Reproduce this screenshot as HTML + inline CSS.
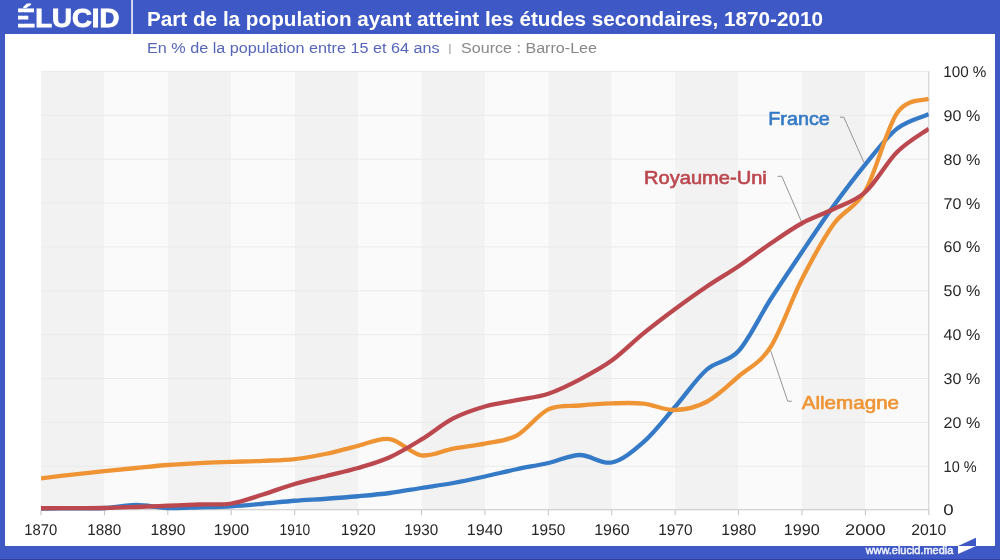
<!DOCTYPE html>
<html lang="fr"><head><meta charset="utf-8">
<title>Part de la population ayant atteint les études secondaires, 1870-2010</title>
<style>
html,body{margin:0;padding:0;background:#3e58c5;}
body{width:1000px;height:560px;overflow:hidden;}
svg{display:block;}
text{font-family:"Liberation Sans",sans-serif;}
.ax{font-size:15.5px;fill:#262626;text-rendering:geometricPrecision;}
.lab{font-size:19px;font-weight:normal;stroke-width:0.65px;stroke-linejoin:round;}
</style></head><body>
<svg width="1000" height="560" viewBox="0 0 1000 560">
<rect x="0" y="0" width="1000" height="560" fill="#3e58c5"/>
<rect x="0" y="559" width="1000" height="1" fill="#2f3fa3"/>
<rect x="5" y="34" width="990" height="512" fill="#fff"/>
<rect x="131.3" y="0" width="1.5" height="34" fill="#fff"/>
<text x="16.8" y="26.6" font-size="26" font-weight="bold" fill="#fff" stroke="#fff" stroke-width="0.9" stroke-linejoin="miter" textLength="102.6" lengthAdjust="spacingAndGlyphs">ÉLUCID</text>
<rect x="15" y="12.31" width="8.9" height="3.38" fill="#3e58c5"/>
<rect x="15" y="19.56" width="8.9" height="4.13" fill="#3e58c5"/>
<rect x="28.3" y="14.9" width="7" height="5.6" fill="#3e58c5"/>
<text x="147" y="25.8" font-size="19.4" font-weight="bold" fill="#fff" textLength="676" lengthAdjust="spacingAndGlyphs">Part de la population ayant atteint les études secondaires, 1870-2010</text>
<text x="147" y="53" font-size="15.5" fill="#5566b8" textLength="292.5" lengthAdjust="spacingAndGlyphs">En % de la population entre 15 et 64 ans</text>
<text x="448.6" y="52.3" font-size="11" fill="#888">|</text>
<text x="461" y="53" font-size="15.5" fill="#888" textLength="136" lengthAdjust="spacingAndGlyphs">Source : Barro-Lee</text>
<rect x="41.00" y="71.40" width="63.41" height="438.75" fill="#f2f2f2"/>
<rect x="104.41" y="71.40" width="63.41" height="438.75" fill="#fafafa"/>
<rect x="167.83" y="71.40" width="63.41" height="438.75" fill="#f2f2f2"/>
<rect x="231.24" y="71.40" width="63.41" height="438.75" fill="#fafafa"/>
<rect x="294.66" y="71.40" width="63.41" height="438.75" fill="#f2f2f2"/>
<rect x="358.07" y="71.40" width="63.41" height="438.75" fill="#fafafa"/>
<rect x="421.49" y="71.40" width="63.41" height="438.75" fill="#f2f2f2"/>
<rect x="484.90" y="71.40" width="63.41" height="438.75" fill="#fafafa"/>
<rect x="548.31" y="71.40" width="63.41" height="438.75" fill="#f2f2f2"/>
<rect x="611.73" y="71.40" width="63.41" height="438.75" fill="#fafafa"/>
<rect x="675.14" y="71.40" width="63.41" height="438.75" fill="#f2f2f2"/>
<rect x="738.56" y="71.40" width="63.41" height="438.75" fill="#fafafa"/>
<rect x="801.97" y="71.40" width="63.41" height="438.75" fill="#f2f2f2"/>
<rect x="865.39" y="71.40" width="63.41" height="438.75" fill="#fafafa"/>
<rect x="41.00" y="465.77" width="887.80" height="1" fill="#eaeaea"/>
<rect x="41.00" y="421.90" width="887.80" height="1" fill="#eaeaea"/>
<rect x="41.00" y="378.02" width="887.80" height="1" fill="#eaeaea"/>
<rect x="41.00" y="334.15" width="887.80" height="1" fill="#eaeaea"/>
<rect x="41.00" y="290.27" width="887.80" height="1" fill="#eaeaea"/>
<rect x="41.00" y="246.40" width="887.80" height="1" fill="#eaeaea"/>
<rect x="41.00" y="202.52" width="887.80" height="1" fill="#eaeaea"/>
<rect x="41.00" y="158.65" width="887.80" height="1" fill="#eaeaea"/>
<rect x="41.00" y="114.77" width="887.80" height="1" fill="#eaeaea"/>
<rect x="41.00" y="70.90" width="887.80" height="1" fill="#eaeaea"/>
<rect x="41.00" y="509.25" width="887.80" height="1" fill="#c8c8c8"/>
<rect x="928.30" y="71.40" width="1" height="438.75" fill="#cacaca"/>
<rect x="40.50" y="510.15" width="1" height="5" fill="#c0c0c0"/>
<text class="ax" x="24.37" y="535.35" textLength="32.95" lengthAdjust="spacingAndGlyphs">1870</text>
<rect x="103.91" y="510.15" width="1" height="5" fill="#c0c0c0"/>
<text class="ax" x="87.29" y="535.35" textLength="33.95" lengthAdjust="spacingAndGlyphs">1880</text>
<rect x="167.33" y="510.15" width="1" height="5" fill="#c0c0c0"/>
<text class="ax" x="150.58" y="535.35" textLength="35.00" lengthAdjust="spacingAndGlyphs">1890</text>
<rect x="230.74" y="510.15" width="1" height="5" fill="#c0c0c0"/>
<text class="ax" x="213.74" y="535.35" textLength="35.50" lengthAdjust="spacingAndGlyphs">1900</text>
<rect x="294.16" y="510.15" width="1" height="5" fill="#c0c0c0"/>
<text class="ax" x="279.53" y="535.35" textLength="30.75" lengthAdjust="spacingAndGlyphs">1910</text>
<rect x="357.57" y="510.15" width="1" height="5" fill="#c0c0c0"/>
<text class="ax" x="340.82" y="535.35" textLength="35.00" lengthAdjust="spacingAndGlyphs">1920</text>
<rect x="420.99" y="510.15" width="1" height="5" fill="#c0c0c0"/>
<text class="ax" x="404.36" y="535.35" textLength="33.95" lengthAdjust="spacingAndGlyphs">1930</text>
<rect x="484.40" y="510.15" width="1" height="5" fill="#c0c0c0"/>
<text class="ax" x="466.85" y="535.35" textLength="35.80" lengthAdjust="spacingAndGlyphs">1940</text>
<rect x="547.81" y="510.15" width="1" height="5" fill="#c0c0c0"/>
<text class="ax" x="531.06" y="535.35" textLength="34.20" lengthAdjust="spacingAndGlyphs">1950</text>
<rect x="611.23" y="510.15" width="1" height="5" fill="#c0c0c0"/>
<text class="ax" x="594.23" y="535.35" textLength="35.50" lengthAdjust="spacingAndGlyphs">1960</text>
<rect x="674.64" y="510.15" width="1" height="5" fill="#c0c0c0"/>
<text class="ax" x="658.27" y="535.35" textLength="34.25" lengthAdjust="spacingAndGlyphs">1970</text>
<rect x="738.06" y="510.15" width="1" height="5" fill="#c0c0c0"/>
<text class="ax" x="721.31" y="535.35" textLength="35.00" lengthAdjust="spacingAndGlyphs">1980</text>
<rect x="801.47" y="510.15" width="1" height="5" fill="#c0c0c0"/>
<text class="ax" x="783.87" y="535.35" textLength="35.90" lengthAdjust="spacingAndGlyphs">1990</text>
<rect x="864.89" y="510.15" width="1" height="5" fill="#c0c0c0"/>
<text class="ax" x="845.14" y="535.35" textLength="40.50" lengthAdjust="spacingAndGlyphs">2000</text>
<rect x="928.30" y="510.15" width="1" height="5" fill="#c0c0c0"/>
<text class="ax" x="911.20" y="535.35" textLength="35.20" lengthAdjust="spacingAndGlyphs">2010</text>
<text class="ax" x="943.30" y="515.45" textLength="10.40" lengthAdjust="spacingAndGlyphs">0</text>
<text class="ax" x="943.60" y="471.82" textLength="33.00" lengthAdjust="spacingAndGlyphs">10 %</text>
<text class="ax" x="943.60" y="427.95" textLength="36.60" lengthAdjust="spacingAndGlyphs">20 %</text>
<text class="ax" x="943.60" y="384.07" textLength="36.60" lengthAdjust="spacingAndGlyphs">30 %</text>
<text class="ax" x="943.60" y="340.20" textLength="36.60" lengthAdjust="spacingAndGlyphs">40 %</text>
<text class="ax" x="943.60" y="296.32" textLength="36.60" lengthAdjust="spacingAndGlyphs">50 %</text>
<text class="ax" x="943.60" y="252.45" textLength="36.60" lengthAdjust="spacingAndGlyphs">60 %</text>
<text class="ax" x="943.60" y="208.57" textLength="36.60" lengthAdjust="spacingAndGlyphs">70 %</text>
<text class="ax" x="943.60" y="164.70" textLength="36.60" lengthAdjust="spacingAndGlyphs">80 %</text>
<text class="ax" x="943.60" y="120.82" textLength="36.60" lengthAdjust="spacingAndGlyphs">90 %</text>
<text class="ax" x="943.20" y="76.95" textLength="43.20" lengthAdjust="spacingAndGlyphs">100 %</text>
<polyline points="840,117.2 843.8,117.2 864,162.5" fill="none" stroke="#8a8a8a" stroke-width="0.9"/>
<polyline points="777.5,176.3 781.8,176.3 801.3,221.3" fill="none" stroke="#8a8a8a" stroke-width="0.9"/>
<polyline points="770.6,350.5 787.7,401.2 791.8,401.2" fill="none" stroke="#8a8a8a" stroke-width="0.9"/>
<clipPath id="cp"><rect x="41.00" y="60" width="887.80" height="460"/></clipPath>
<g clip-path="url(#cp)">
<path d="M41.00,508.50C46.28,508.47 62.14,508.38 72.71,508.30C83.28,508.22 93.85,508.55 104.41,508.00C114.98,507.45 125.55,505.00 136.12,505.00C146.69,505.00 157.26,507.62 167.83,508.00C178.40,508.38 188.97,507.59 199.54,507.30C210.10,507.01 220.67,506.84 231.24,506.25C241.81,505.66 252.38,504.67 262.95,503.75C273.52,502.83 284.09,501.58 294.66,500.75C305.23,499.92 315.80,499.50 326.36,498.75C336.93,498.00 347.50,497.21 358.07,496.25C368.64,495.29 379.21,494.38 389.78,493.00C400.35,491.62 410.92,489.67 421.49,488.00C432.05,486.33 442.62,484.92 453.19,483.00C463.76,481.08 474.33,478.79 484.90,476.50C495.47,474.21 506.04,471.50 516.61,469.25C527.18,467.00 537.75,465.38 548.31,463.00C558.88,460.62 569.45,455.08 580.02,455.00C590.59,454.92 601.16,464.63 611.73,462.50C622.30,460.37 632.87,451.49 643.44,442.20C654.00,432.91 664.57,418.87 675.14,406.75C685.71,394.63 696.28,378.79 706.85,369.50C717.42,360.21 727.99,362.62 738.56,351.00C749.13,339.38 759.70,316.25 770.26,299.75C780.83,283.25 791.40,267.67 801.97,252.00C812.54,236.33 823.11,220.37 833.68,205.75C844.25,191.13 854.82,177.16 865.39,164.30C875.95,151.44 886.52,136.94 897.09,128.60C907.66,120.26 923.52,116.64 928.80,114.25" fill="none" stroke="#357ac6" stroke-width="4.3" stroke-linejoin="round"/>
<path d="M41.00,478.30C46.28,477.68 62.14,475.78 72.71,474.60C83.28,473.42 93.85,472.30 104.41,471.20C114.98,470.10 125.55,469.03 136.12,468.00C146.69,466.97 157.26,465.82 167.83,465.00C178.40,464.18 188.97,463.62 199.54,463.10C210.10,462.58 220.67,462.28 231.24,461.90C241.81,461.52 252.38,461.27 262.95,460.80C273.52,460.33 284.09,460.23 294.66,459.05C305.23,457.88 315.80,455.96 326.36,453.75C336.93,451.54 347.50,448.25 358.07,445.80C368.64,443.35 379.21,437.47 389.78,439.05C400.35,440.63 410.92,453.71 421.49,455.30C432.05,456.89 442.62,450.55 453.19,448.60C463.76,446.65 474.33,445.77 484.90,443.60C495.47,441.43 506.04,441.31 516.61,435.60C527.18,429.89 537.75,414.37 548.31,409.35C558.88,404.33 569.45,406.49 580.02,405.50C590.59,404.51 601.16,403.72 611.73,403.40C622.30,403.08 632.87,402.50 643.44,403.60C654.00,404.70 664.57,410.31 675.14,410.00C685.71,409.69 696.28,407.33 706.85,401.75C717.42,396.17 727.99,385.54 738.56,376.50C749.13,367.46 759.70,363.75 770.26,347.50C780.83,331.25 791.40,299.58 801.97,279.00C812.54,258.42 823.11,238.70 833.68,224.00C844.25,209.30 854.82,209.30 865.39,190.80C875.95,172.30 886.52,128.33 897.09,113.00C907.66,97.67 923.52,101.17 928.80,98.80" fill="none" stroke="#ef9434" stroke-width="4.3" stroke-linejoin="round"/>
<path d="M41.00,508.25C46.28,508.23 62.14,508.14 72.71,508.10C83.28,508.06 93.85,508.18 104.41,508.00C114.98,507.82 125.55,507.38 136.12,507.00C146.69,506.62 157.26,506.17 167.83,505.75C178.40,505.33 188.97,504.88 199.54,504.50C210.10,504.12 220.67,505.17 231.24,503.50C241.81,501.83 252.38,497.75 262.95,494.50C273.52,491.25 284.09,487.08 294.66,484.00C305.23,480.92 315.80,478.67 326.36,476.00C336.93,473.33 347.50,471.12 358.07,468.00C368.64,464.88 379.21,462.01 389.78,457.25C400.35,452.49 410.92,445.93 421.49,439.45C432.05,432.97 442.62,423.89 453.19,418.40C463.76,412.91 474.33,409.53 484.90,406.50C495.47,403.47 506.04,402.33 516.61,400.20C527.18,398.07 537.75,397.18 548.31,393.70C558.88,390.22 569.45,384.82 580.02,379.30C590.59,373.78 601.16,368.25 611.73,360.60C622.30,352.95 632.87,342.00 643.44,333.40C654.00,324.80 664.57,316.82 675.14,309.00C685.71,301.18 696.28,293.62 706.85,286.50C717.42,279.38 727.99,273.38 738.56,266.25C749.13,259.12 759.70,250.92 770.26,243.75C780.83,236.58 791.40,229.04 801.97,223.25C812.54,217.46 823.11,214.21 833.68,209.00C844.25,203.79 854.82,201.50 865.39,192.00C875.95,182.50 886.52,162.54 897.09,152.00C907.66,141.46 923.52,132.62 928.80,128.75" fill="none" stroke="#bc484f" stroke-width="4.3" stroke-linejoin="round"/>
</g>
<text class="lab" x="768.3" y="125" fill="#357ac6" stroke="#357ac6" textLength="61.5" lengthAdjust="spacingAndGlyphs">France</text>
<text class="lab" x="644" y="183.8" fill="#bc484f" stroke="#bc484f" textLength="122.8" lengthAdjust="spacingAndGlyphs">Royaume-Uni</text>
<text class="lab" x="801.7" y="408.8" fill="#ef9434" stroke="#ef9434" textLength="97.4" lengthAdjust="spacingAndGlyphs">Allemagne</text>
<text x="865.7" y="553.8" font-size="10.8" fill="#f2f4ff" stroke="#f2f4ff" stroke-width="0.45" textLength="87.6" lengthAdjust="spacingAndGlyphs">www.elucid.media</text>
<polygon points="958,546 976,537.8 976,546" fill="#3e58c5"/>
<polygon points="958,546 976,546 958,554" fill="#fff"/>
</svg>
</body></html>
